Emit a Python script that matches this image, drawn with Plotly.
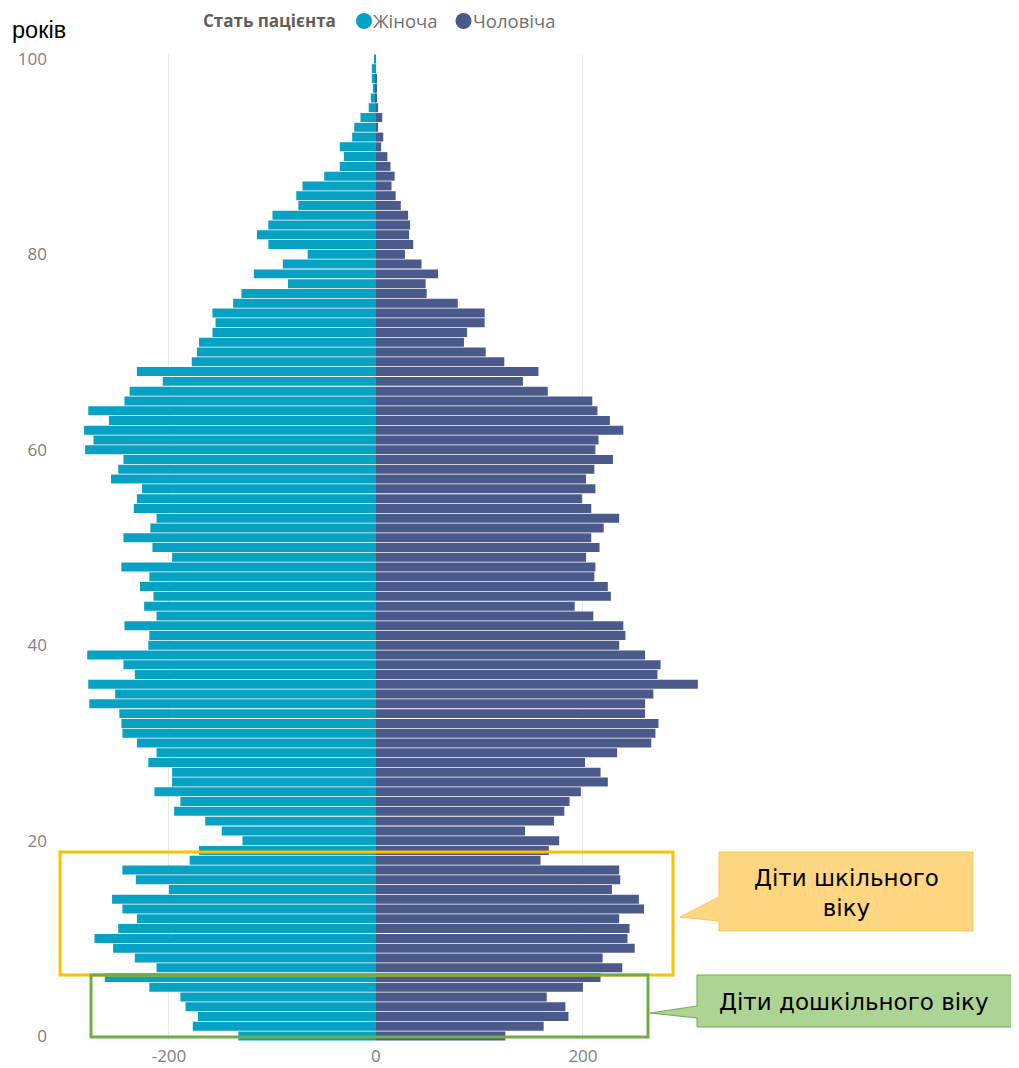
import plotly.graph_objects as go

ages = list(range(0, 101))
female = [133, 177, 172, 184, 189, 219, 262, 212, 233, 254,
          272, 249, 231, 245, 255, 200, 232, 245, 180, 171,
          129, 149, 165, 195, 189, 214, 197, 197, 220, 212,
          231, 245, 246, 248, 277, 252, 278, 233, 244, 279,
          220, 219, 243, 212, 224, 215, 228, 219, 246, 197,
          216, 244, 218, 212, 234, 231, 226, 256, 249, 244,
          281, 273, 282, 258, 278, 243, 238, 206, 231, 178,
          173, 171, 158, 155, 158, 138, 130, 85, 118, 90,
          66, 104, 115, 104, 100, 75, 77, 71, 50, 35,
          31, 35, 23, 21, 15, 7, 5, 3, 4, 4,
          1]
male = [125, 162, 186, 183, 165, 200, 217, 238, 219, 250,
        243, 245, 235, 259, 254, 228, 236, 235, 159, 167,
        177, 144, 172, 182, 187, 198, 224, 217, 202, 233,
        266, 270, 273, 260, 260, 268, 311, 272, 275, 260,
        235, 241, 239, 210, 192, 227, 224, 211, 212, 203,
        216, 208, 220, 235, 208, 199, 212, 203, 211, 229,
        212, 215, 239, 226, 214, 209, 166, 142, 157, 124,
        106, 85, 88, 105, 105, 79, 49, 48, 60, 44,
        28, 36, 32, 33, 31, 24, 19, 15, 18, 14,
        11, 5, 7, 2, 6, 2, 1, 1, 1, 0,
        0]
x_ticks = [-200, 0, 200]
y_ticks = [0, 20, 40, 60, 80, 100]
legend_title = "Стать пацієнта"
series_names = ["Жіноча", "Чоловіча"]
unit_label = "років"
school_label = "Діти шкільного<br>віку"
preschool_label = "Діти дошкільного віку"

F_COLOR = "#07A2C3"
M_COLOR = "#4B5A8A"

# the page body has an 8px margin: size the figure so page pixels line up
OFF = 8
W, H = 1011, 1060
L, T = 52, 46
R = W - (720 - OFF)
B = H - (1041 - OFF)
PW, PH = W - L - R, H - T - B


def px(p):
    return (p - OFF - L) / PW


def py(p):
    return (H - B - (p - OFF)) / PH


fig = go.Figure()
fig.add_trace(go.Bar(y=ages, x=[-v for v in female], orientation="h",
                     name=series_names[0], marker=dict(color=F_COLOR, line=dict(width=0)),
                     showlegend=False))
fig.add_trace(go.Bar(y=ages, x=male, orientation="h",
                     name=series_names[1], marker=dict(color=M_COLOR, line=dict(width=0)),
                     showlegend=False))

shapes = []
# highlight boxes
shapes.append(dict(type="rect", xref="paper", yref="paper",
                   x0=px(60), x1=px(673), y0=py(975), y1=py(852),
                   line=dict(color="#FFC000", width=3), fillcolor="rgba(0,0,0,0)"))
shapes.append(dict(type="rect", xref="paper", yref="paper",
                   x0=px(91), x1=px(648), y0=py(1037), y1=py(975),
                   line=dict(color="#70AD47", width=3), fillcolor="rgba(0,0,0,0)"))


def callout(pts):
    return "M " + " L ".join(f"{px(a):.5f},{py(b):.5f}" for a, b in pts) + " Z"


shapes.append(dict(type="path", xref="paper", yref="paper",
                   path=callout([(719, 852), (973, 852), (973, 931), (719, 931),
                                 (719, 921), (680, 917), (719, 897)]),
                   fillcolor="#FFD783", line=dict(color="#FFC44D", width=1)))
shapes.append(dict(type="path", xref="paper", yref="paper",
                   path=callout([(697, 975), (1013, 975), (1013, 1027), (697, 1027),
                                 (697, 1018), (650, 1013), (697, 1006)]),
                   fillcolor="#ADD495", line=dict(color="#70AD47", width=1)))
# legend circles
for cx, col in [(364, F_COLOR), (463.5, M_COLOR)]:
    shapes.append(dict(type="circle", xref="paper", yref="paper",
                       x0=px(cx - 8), x1=px(cx + 8), y0=py(29), y1=py(13),
                       fillcolor=col, line=dict(width=0)))

annotations = [
    dict(text=f"<b>{legend_title}</b>", x=px(201), y=py(21), xref="paper", yref="paper",
         xanchor="left", yanchor="middle", showarrow=False,
         font=dict(family="Open Sans, Noto Sans", size=17, color="#5F5F5F")),
    dict(text=series_names[0], x=px(371), y=py(21), xref="paper", yref="paper",
         xanchor="left", yanchor="middle", showarrow=False,
         font=dict(family="Open Sans, Noto Sans", size=18.5, color="#707070")),
    dict(text=series_names[1], x=px(471), y=py(21), xref="paper", yref="paper",
         xanchor="left", yanchor="middle", showarrow=False,
         font=dict(family="Open Sans, Noto Sans", size=18.5, color="#707070")),
    dict(text=unit_label, x=px(10), y=py(30), xref="paper", yref="paper",
         xanchor="left", yanchor="middle", showarrow=False,
         font=dict(family="Liberation Sans, Arial", size=23.5, color="#000000")),
    dict(text=school_label, x=px(846), y=py(893), xref="paper", yref="paper",
         xanchor="center", yanchor="middle", showarrow=False, align="center",
         font=dict(family="DejaVu Sans", size=23, color="#000000")),
    dict(text=preschool_label, x=px(854), y=py(1002), xref="paper", yref="paper",
         xanchor="center", yanchor="middle", showarrow=False, align="center",
         font=dict(family="DejaVu Sans", size=23, color="#000000")),
]

fig.update_layout(
    width=W, height=H,
    margin=dict(l=L, r=R, t=T, b=B, pad=0, autoexpand=False),
    paper_bgcolor="white", plot_bgcolor="white",
    barmode="relative", bargap=0.08,
    shapes=shapes, annotations=annotations,
    showlegend=False,
    font=dict(family="Open Sans, Noto Sans", size=17, color="#808080"),
)
fig.update_xaxes(range=[-305.3, 332.4], tickvals=x_ticks, ticktext=[str(v) for v in x_ticks],
                 showgrid=True, gridcolor="#E8E8E8", gridwidth=1, zeroline=False,
                 showline=False, ticks="", ticklabelstandoff=3, automargin=False,
                 tickfont=dict(size=17, color="#808080"))
fig.update_yaxes(range=[-0.5, 100.5], tickvals=y_ticks, showgrid=False, zeroline=False,
                 showline=False, ticks="", ticklabelstandoff=12, automargin=False,
                 tickfont=dict(size=17, color="#808080"))

fig.write_html("out.html")
